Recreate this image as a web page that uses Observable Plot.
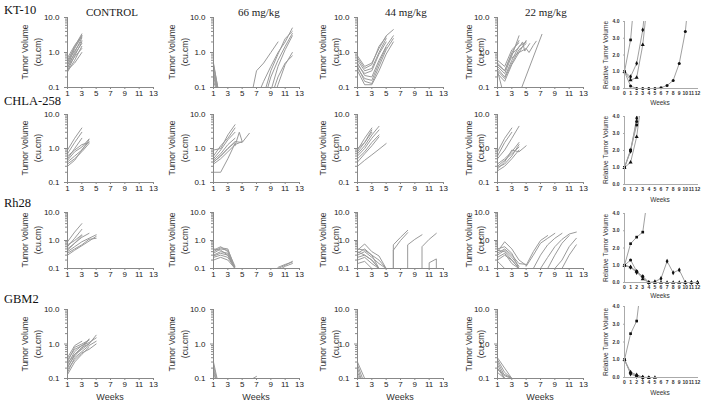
<!DOCTYPE html>
<html><head><meta charset="utf-8">
<script src="https://cdn.jsdelivr.net/npm/d3@7"></script>
<script src="https://cdn.jsdelivr.net/npm/@observablehq/plot@0.6"></script>
<style>
body{margin:0;background:#fff;}
#fig{position:relative;width:705px;height:409px;overflow:hidden;background:#fff;font-family:"Liberation Sans",Arial,sans-serif;}
.t{position:absolute;white-space:nowrap;line-height:1;}
.serif{font-family:"Liberation Serif","DejaVu Serif",serif;color:#111;}
.rot{transform:translate(-50%,-50%) rotate(-90deg);}
</style></head><body><div id="fig"></div><script>
// ---------- labels & ticks ----------
const rowNames = ["KT-10", "CHLA-258", "Rh28", "GBM2"];
const colNames = ["CONTROL", "66 mg/kg", "44 mg/kg", "22 mg/kg"];
const volTicks = [0.1, 1, 10];
const volMinor = [0.2,0.3,0.4,0.5,0.6,0.7,0.8,0.9,2,3,4,5,6,7,8,9];
const weekTicks = [1, 3, 5, 7, 9, 11, 13];
const relTicks = [0, 1, 2, 3, 4];
const relWeekTicks = [0,1,2,3,4,5,6,7,8,9,10,11,12];
const doses = ["control", "66", "44", "22"];

// ---------- tumour volume series (cu.cm) ----------
// format: [startWeek, v1, v2, ...] weekly, or [[week, v], ...]
const kt10Control = [
 [1,0.30,0.80,2.0],[1,0.35,1.0,2.6],[1,0.42,1.3,3.1],[1,0.50,1.5,3.4],[1,0.28,0.60,1.5],
 [1,0.60,1.4,2.8],[1,0.45,0.90,1.8],[1,0.32,0.50,1.0],[1,0.70,1.6,3.0],[1,0.38,0.75,1.3],[1,0.55,1.1,2.2]];
const kt10D66 = [
 [[1,0.5],[1.6,0.1]],[[1,0.4],[1.55,0.1]],[[1,0.3],[1.5,0.1]],[[1,0.25],[1.45,0.1]],
 [[1,0.2],[1.4,0.1]],[[1,0.15],[1.3,0.1]],[[1,0.45],[1.6,0.1]],
 [6,0.03,0.3,0.5,1.0,2.0],[7,0.05,0.15,0.4,1.0,2.0,5.0],[8,0.06,0.3,0.9,2.5,4.0],
 [8,0.04,0.2,0.6,1.5,3.5],[9,0.08,0.4,1.2,3.0],[9,0.05,0.2,0.5,0.8],[9,0.03,0.12,0.45,1.0]];
const kt10D44 = [
 [1,0.8,0.4,0.5,1.3,3.0,4.5],[1,0.6,0.3,0.35,1.0,2.5],[1,0.5,0.22,0.2,0.6,1.5,3.0],
 [1,0.4,0.15,0.13,0.4,1.2,2.5],[1,0.3,0.12,0.12,0.3,0.9,2.0],[1,0.7,0.35,0.45,1.5,2.8],
 [1,0.45,0.25,0.3,0.9,2.0],[1,0.35,0.18,0.16,0.5,1.4]];
const kt10D22 = [
 [1,0.5,0.3,1.0,2.2],[1,0.4,0.25,0.8,3.0],[1,0.35,0.2,0.6,1.5,2.0],[1,0.3,0.18,0.5,1.2,1.8],
 [1,0.6,0.4,1.2,1.9],[1,0.25,0.15,0.45,1.0,2.2],
 [[1,0.45],[2,0.3],[3,0.9],[4,1.4],[4.5,2.0],[4.8,1.1],[5.5,1.8]],
 [[3,0.7],[4,1.0],[5,1.3],[5.4,1.0],[6,1.6],[6.4,2.1]],
 [[1,0.3],[1.6,0.1]],[[4.2,0.08],[7.2,3.3]]];

const chlaControl = [
 [1,0.9,2.0,4.0],[1,0.7,1.5,3.0],[1,0.5,1.0,2.0],[1,0.45,0.8,1.1,1.9],[1,0.4,0.6,0.9,1.6],
 [1,0.35,0.5,0.8,1.4],[1,0.3,0.45,0.9,1.8],[1,0.6,0.9,1.3,1.5]];
const chlaD66 = [
 [1,0.9,1.0,2.5,5.0],[1,0.6,1.2,2.0,4.0],[1,0.5,0.9,1.8,3.0],[1,0.45,0.7,1.3,2.0],
 [1,0.4,0.6,1.0,1.5],[1,0.35,0.5,0.8,1.3,1.6],[1,0.2,0.2,0.5,1.4],
 [[1,0.4],[2,0.6],[3,1.0],[4,1.6],[5,1.5],[6,2.8]],[[4,1.2],[4.6,3.0],[5,1.6]]];
const chlaD44 = [
 [1,0.9,2.0,4.0],[1,0.8,1.5,3.5],[1,0.7,1.2,2.5,4.5],[1,0.6,1.0,2.0,3.5],[1,0.5,0.8,1.5,2.5],
 [1,1.0,1.5,3.0],[1,0.4,0.7,1.2,2.2],[1,0.3,0.45,0.65,0.95,1.4]];
const chlaD22 = [
 [1,0.8,2.0,4.0],[1,0.6,1.5,3.0],[1,0.5,0.9,2.0,4.5],[1,0.35,0.5,0.8,1.5],[1,0.3,0.45,0.7,1.1],
 [1,0.25,0.4,0.9,0.8,1.2],[1,0.28,0.35,0.6,1.3],[1,0.22,0.3,0.5,0.9]];

const rh28Control = [
 [1,0.9,2.0,4.0],[1,0.6,1.2,2.5],[1,0.5,0.8,1.3,1.8],[1,0.4,0.6,0.9,1.2,1.6],
 [1,0.3,0.45,0.65,0.95,1.4],[1,0.7,1.0,1.6],[1,0.35,0.5,0.7,1.1,1.2],[1,0.45,0.8,1.5]];
const rh28D66 = [
 [1,0.4,0.55,0.5,0.1],[1,0.35,0.5,0.45,0.12],[1,0.3,0.4,0.35,0.1],[1,0.28,0.35,0.3,0.1],
 [1,0.25,0.3,0.25,0.1],[1,0.5,0.45,0.3,0.1],[1,0.2,0.25,0.2,0.1],[1,0.45,0.6,0.4,0.1],
 [10,0.1,0.13,0.18],[10,0.11,0.14,0.17],[[10.5,0.1],[11,0.12],[12,0.15]]];
const rh28D44 = [
 [1,0.35,0.5,0.3,0.2,0.1],[1,0.3,0.4,0.25,0.15,0.1],[1,0.5,0.45,0.3,0.1],[1,0.25,0.3,0.2,0.1],
 [1,0.2,0.25,0.15,0.1],[1,0.15,0.18,0.1],[1,0.4,0.3,0.2,0.1],[1,0.45,0.75,0.4,0.28,0.1],
 [[6,0.1],[6,0.7],[7,1.3],[8,2.3]],[[6,0.1],[6,0.45],[7,1.0],[8,1.9]],
 [[8,0.1],[8,0.7],[9,1.1],[10,1.6]],[[10,0.1],[10,0.6],[11,1.1],[12,1.8]],
 [[11,0.1],[11,0.16],[12,0.22],[12,0.1]]];
const rh28D22 = [
 [1,0.4,0.9,0.5,0.2,0.13],[1,0.35,0.5,0.3,0.15,0.14],[1,0.3,0.45,0.25,0.12],[1,0.5,0.6,0.35,0.1],
 [1,0.2,0.3,0.2,0.1],[[1,0.18],[2,0.1]],[1,0.45,0.4,0.2,0.1],[1,0.25,0.35,0.15,0.1],
 [5,0.13,0.4,1.0,1.5],[5,0.12,0.3,0.8,1.2,1.8],[6,0.1,0.3,0.7,1.2,1.8],
 [7,0.1,0.25,0.6,1.1,1.7,2.0],[8,0.1,0.3,0.8,1.5],[9,0.1,0.2,0.6,1.2],[10,0.1,0.3,0.7]];

const gbmControl = [
 [1,0.4,0.9,1.2],[1,0.3,0.8,1.0,1.3],[1,0.25,0.6,0.9,1.1,1.5],[1,0.2,0.5,0.8,1.0,1.8],
 [1,0.35,0.7,0.9,1.3],[1,0.15,0.4,0.6,0.9,1.2],[1,0.13,0.3,0.5,0.8],[1,0.28,0.5,0.7,1.0],
 [1,0.22,0.45,0.75,1.4],[1,0.18,0.35,0.55,0.7,1.0]];
const gbmD66 = [
 [[1,0.3],[1.5,0.1]],[[1,0.25],[1.4,0.1]],[[1,0.2],[1.3,0.1]],[[1,0.15],[1.25,0.1]],
 [[6.5,0.1],[7,0.115]]];
const gbmD44 = [
 [[1,0.3],[2,0.1]],[[1,0.25],[1.7,0.1]],[[1,0.2],[1.5,0.1]],[[1,0.15],[1.4,0.1]],[[1,0.12],[1.3,0.1]]];
const gbmD22 = [
 [1,0.4,0.2,0.1],[1,0.35,0.15,0.1],[1,0.3,0.12,0.1],[1,0.25,0.1],[1,0.2,0.1],
 [1,0.18,0.13,0.1],[1,0.15,0.1]];

// ---------- relative tumour volume (control, 66, 44, 22 mg/kg) ----------
const relKT10 = [
 [0,1.0,2.9,7.0],
 [0,1.0,0.15,0,0,0,0,0.05,0.18,0.48,1.5,3.4,7.0],
 [0,1.0,0.7,1.5,3.5,7.0],
 [0,1.0,0.5,0.65,2.6,6.0]];
const relCHLA = [
 [0,1.0,2.0,3.5,6.5],
 [0,1.0,2.05,3.7,7.0],
 [0,1.0,1.95,3.9,7.5],
 [0,1.0,1.3,2.8,5.5]];
const relRh28 = [
 [0,1.0,2.25,2.63,2.92,5.5],
 [0,1.0,1.3,0.65,0.35,0],
 [0,1.0,0.88,0.58,0.35,0,0.05,0.23,1.23,0.57,0.73,0,0,0],
 [0,1.0,0.9,0.65,0.2,0,0,0,0,0,0,0,0,0]];
const relGBM2 = [
 [0,1.0,2.47,3.18,6.0],
 [0,1.0,0.25,0.1,0,0],
 [0,1.0,0.2,0.05,0],
 [0,1.0,0.3,0.15,0.02,0,0]];

const volPanels = [
 [kt10Control, kt10D66, kt10D44, kt10D22],
 [chlaControl, chlaD66, chlaD44, chlaD22],
 [rh28Control, rh28D66, rh28D44, rh28D22],
 [gbmControl, gbmD66, gbmD44, gbmD22]];
const relPanels = [relKT10, relCHLA, relRh28, relGBM2];

// ---------- layout ----------
const fig = document.getElementById("fig");
const colX = [67, 213, 357, 497];
const rowY = [17, 114, 212, 309];
const rowH = [70, 68, 56, 69];
const relY = [21, 116, 213, 306];
const relH = [67, 68, 69, 71];
const labX1 = [25, 172, 323, 469];
const labX2 = [38, 185, 336, 481];

function pts(s) { return Array.isArray(s[0]) ? s : s.slice(1).map((v, i) => [s[0] + i, v]); }

function text(str, x, y, css, cls) {
  const d = document.createElement("div");
  d.className = "t " + (cls || "");
  d.textContent = str;
  d.style.cssText += `left:${x}px;top:${y}px;` + css;
  fig.append(d);
  return d;
}

function volPanel(series, col, row) {
  const W = 86, H = rowH[row], ml = 30, mr = 6, mt = 6, mb = 14;
  const data = series.flatMap((s, i) => pts(s).map(([w, v]) => ({id: i, w, v})));
  const svg = Plot.plot({
    width: W + ml + mr, height: H + mt + mb,
    marginLeft: ml, marginRight: mr, marginTop: mt, marginBottom: mb,
    style: {background: "transparent", fontFamily: "'Liberation Sans', Arial, sans-serif", fontSize: "8px", color: "#222"},
    x: {domain: [1, 13]},
    y: {type: "log", domain: [0.1, 10]},
    marks: [
      Plot.line(data, {x: "w", y: "v", z: "id", stroke: "#9a9a9a", strokeWidth: 1, clip: true}),
      Plot.axisY(volMinor, {tickSize: 2, text: null, label: null, stroke: "#888"}),
      Plot.axisY(volTicks, {tickSize: 3, tickPadding: 5, tickFormat: d3.format(".1f"), label: null, stroke: "#888", fill: "#222"}),
      Plot.axisX(weekTicks, {tickSize: 2, tickPadding: 1, label: null, stroke: "#888", fill: "#222"}),
      Plot.ruleX([1], {stroke: "#888"}),
      Plot.ruleY([0.1], {stroke: "#888"})
    ]
  });
  svg.style.position = "absolute";
  svg.style.left = (colX[col] - ml) + "px";
  svg.style.top = (rowY[row] - mt) + "px";
  fig.append(svg);
  const cy = rowY[row] + H / 2;
  text("Tumor Volume", labX1[col], cy, "font-size:8.5px;color:#333;", "rot");
  text("(cu.cm)", labX2[col], cy, "font-size:8.5px;color:#333;", "rot");
}

function relPanel(series, row) {
  const W = 73, H = relH[row], ml = 18, mr = 4, mt = 4, mb = 10;
  const data = series.flatMap((s, i) => pts(s).map(([w, v]) => ({dose: doses[i], w, v})));
  const svg = Plot.plot({
    width: W + ml + mr, height: H + mt + mb,
    marginLeft: ml, marginRight: mr, marginTop: mt, marginBottom: mb,
    style: {background: "transparent", fontFamily: "'Liberation Sans', Arial, sans-serif", fontSize: "5px", fontWeight: "bold", color: "#333"},
    x: {domain: [0, 12]},
    y: {domain: [0, 4]},
    symbol: {domain: doses, range: ["square", "circle", "diamond", "triangle"]},
    marks: [
      Plot.line(data, {x: "w", y: "v", z: "dose", stroke: "#a0a0a0", strokeWidth: 1, clip: true}),
      Plot.dot(data.filter(d => d.v <= 4.02), {x: "w", y: "v", symbol: "dose", fill: "#111", stroke: "none", r: 1.5}),
      Plot.axisY(relTicks, {tickSize: 1, tickPadding: 4, tickFormat: d3.format(".1f"), label: null, stroke: "#aaa", fill: "#333"}),
      Plot.axisX(relWeekTicks, {tickSize: 1, tickPadding: 2, label: null, stroke: "#aaa", fill: "#333"}),
      Plot.ruleX([0], {stroke: "#aaa"}),
      Plot.ruleY([0], {stroke: "#aaa"})
    ]
  });
  svg.style.position = "absolute";
  svg.style.left = (624 - ml) + "px";
  svg.style.top = (relY[row] - mt) + "px";
  fig.append(svg);
  text("Relative Tumor Volume", 606, relY[row] + H / 2, "font-size:6.6px;color:#333;", "rot");
}

volPanels.forEach((row, r) => row.forEach((series, c) => volPanel(series, c, r)));
relPanels.forEach((series, r) => relPanel(series, r));

// row names
const rowTop = [4, 95, 197, 293];
rowNames.forEach((n, r) => text(n, 4, rowTop[r], "font-size:12.5px;", "serif"));
// column titles
const titleX = [86, 238, 385, 525];
colNames.forEach((n, c) => text(n, titleX[c], 7, "font-size:11px;color:#222;", "serif"));
// week labels
[110, 256, 400, 540].forEach(x => text("Weeks", x, 397, "font-size:9px;color:#333;transform:translate(-50%,-50%);"));
const relWeeksY = [103, 200, 296, 393];
relWeeksY.forEach(y => text("Weeks", 660, y, "font-size:6.5px;color:#333;transform:translate(-50%,-50%);"));
</script></body></html>
